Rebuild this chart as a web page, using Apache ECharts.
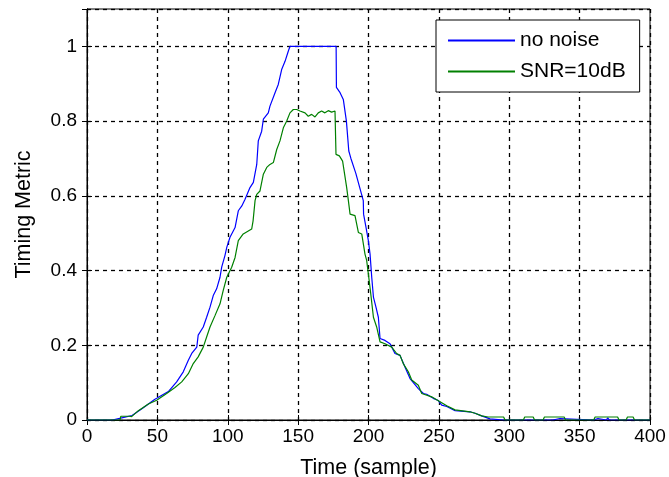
<!DOCTYPE html>
<html>
<head>
<meta charset="utf-8">
<script src="https://cdn.jsdelivr.net/npm/echarts@6/dist/echarts.min.js"></script>
<style>html,body{margin:0;padding:0;background:#fff}#c{width:669px;height:477px}</style>
</head>
<body>
<div id="c"></div>
<script>
var seriesNames = ['no noise', 'SNR=10dB'];
var xTicks = [0, 50, 100, 150, 200, 250, 300, 350, 400];
var yTicks = [0, 0.2, 0.4, 0.6, 0.8, 1];

var noNoise = [
  [0,0],[18,0],[24,0.005],[32,0.012],[40,0.033],[48,0.055],
  [49.5,0.058],[57.8,0.076],[63.7,0.102],[68.4,0.129],[72,0.16],[74.4,0.178],[78,0.195],[79,0.227],
  [82.6,0.249],[85,0.275],[87.4,0.302],[89.7,0.333],[92.1,0.351],[94.5,0.382],[95.7,0.409],[98,0.44],
  [99.3,0.462],[101.6,0.489],[105.2,0.515],[107.5,0.56],[110,0.573],[112.3,0.591],[115.8,0.622],
  [118.2,0.636],[120.6,0.684],[121.7,0.747],[124.1,0.773],[125.3,0.805],[128.8,0.822],[130,0.84],
  [133.6,0.876],[135.9,0.898],[138.3,0.938],[140.7,0.96],[143,0.987],[144.2,1],[177,1],[177.2,0.89],
  [179.8,0.876],[182.1,0.858],[184.3,0.8],[186,0.72],[187.5,0.70],[191,0.66],[196.3,0.587],[196.5,0.551],
  [198.2,0.516],[199.9,0.48],[201.1,0.444],[202.3,0.382],[203.5,0.329],[205.3,0.302],[207,0.275],
  [208.2,0.218],[211.7,0.213],[215.3,0.204],[218.8,0.178],[222.4,0.173],[225.9,0.142],[229.5,0.111],
  [235.4,0.084],[239,0.071],[241.3,0.069],[246,0.058],[249.6,0.052],[252,0.04],[255.6,0.036],
  [261.5,0.025],[272.1,0.022],[275.7,0.018],[280.4,0.011],[286.3,0.003],[296,0],[310,0],[311,0.004],
  [312,0],[331,0],[332,0.004],[336,0.004],[337,0],[360,0],[361,0.004],[363,0.004],[364,0],[369,0],
  [370,0.006],[371,0],[394,0],[395,0.005],[396,0],[400,0]
];

var snr10 = [
  [0,0],[23.5,0],[24,0.01],[30,0.01],[31.7,0.009],[36.5,0.025],[43.6,0.043],[49.5,0.053],[56.6,0.071],
  [62.5,0.087],[67.3,0.102],[72,0.124],[75.5,0.151],[79,0.169],[82.6,0.195],[85,0.222],[87.4,0.249],
  [91,0.28],[94.5,0.311],[96.8,0.347],[99.3,0.382],[102.8,0.409],[105.2,0.435],[107.5,0.48],[111,0.498],
  [117,0.511],[118,0.533],[119.4,0.587],[120.6,0.604],[122.9,0.613],[125.3,0.658],[127.7,0.676],
  [130,0.684],[132.4,0.689],[134.8,0.724],[137.1,0.747],[139.5,0.782],[141.9,0.8],[144.2,0.822],
  [146.6,0.831],[149,0.831],[151.3,0.827],[154.9,0.822],[157.2,0.813],[159.6,0.818],[162,0.811],
  [164.3,0.822],[166.7,0.827],[169,0.822],[171.4,0.828],[173.8,0.824],[176.2,0.827],[176.9,0.711],
  [179.3,0.707],[181.6,0.693],[184.5,0.622],[185.7,0.587],[186.9,0.551],[190.4,0.547],[192.8,0.502],
  [195.2,0.498],[197.5,0.444],[198.7,0.427],[199.9,0.391],[201.6,0.338],[203.5,0.275],[205.8,0.249],
  [208.2,0.209],[211.7,0.204],[216.5,0.195],[220,0.178],[222.4,0.173],[224.7,0.151],[228.3,0.129],
  [230.7,0.107],[235.4,0.093],[237.8,0.071],[244.9,0.062],[250.8,0.049],[255.6,0.038],[261.5,0.027],
  [272.1,0.022],[275.7,0.018],[280.4,0.011],[285,0.008],[296,0.008],[297,0],[310,0],[311,0.008],
  [317,0.008],[318,0],[324,0],[325,0.008],[339,0.008],[340,0],[360,0],[361,0.008],[377,0.008],
  [378,0],[383,0],[384,0.008],[388,0.008],[389,0],[400,0]
];

var FONT = 'Liberation Sans, Arial, sans-serif';
var chart = echarts.init(document.getElementById('c'));
var dashed = {show: true, lineStyle: {color: '#000', type: [4, 4], width: 1.3}};
var tickIn = {show: true, inside: true, length: 5, lineStyle: {color: '#000'}};
chart.setOption({
  animation: false,
  backgroundColor: '#fff',
  grid: {left: 87, right: 19, top: 9, bottom: 57, show: true, borderColor: '#000', borderWidth: 1,
         backgroundColor: 'transparent', containLabel: false, outerBoundsMode: 'none'},
  legend: {
    data: seriesNames,
    orient: 'vertical', left: 436, top: 20,
    padding: [10, 14, 10, 12], itemGap: 10, itemWidth: 67, itemHeight: 2,
    icon: 'rect',
    backgroundColor: '#fff', borderColor: '#000', borderWidth: 1,
    textStyle: {fontFamily: FONT, fontSize: 21, color: '#000', lineHeight: 21}
  },
  xAxis: [{
    type: 'value', min: xTicks[0], max: xTicks[xTicks.length - 1], interval: 50,
    name: 'Time (sample)', nameLocation: 'middle', nameGap: 37,
    nameTextStyle: {fontFamily: FONT, fontSize: 21.5, color: '#000'},
    axisLine: {show: true, lineStyle: {color: '#000'}},
    axisTick: tickIn,
    axisLabel: {fontFamily: FONT, fontSize: 19, color: '#000', margin: 7},
    splitLine: dashed
  }, {
    type: 'value', position: 'top', min: xTicks[0], max: xTicks[xTicks.length - 1], interval: 50,
    axisLine: {show: true, lineStyle: {color: '#000'}}, axisTick: tickIn,
    axisLabel: {show: false}, splitLine: {show: false}
  }],
  yAxis: [{
    type: 'value', min: yTicks[0], max: 1.1, interval: 0.2,
    name: 'Timing Metric', nameLocation: 'middle', nameGap: 52,
    nameTextStyle: {fontFamily: FONT, fontSize: 21.5, color: '#000'},
    axisLine: {show: true, lineStyle: {color: '#000'}},
    axisTick: tickIn,
    axisLabel: {fontFamily: FONT, fontSize: 19, color: '#000', margin: 10, showMaxLabel: false},
    splitLine: dashed
  }, {
    type: 'value', position: 'right', min: yTicks[0], max: 1.1, interval: 0.2,
    axisLine: {show: true, lineStyle: {color: '#000'}}, axisTick: tickIn,
    axisLabel: {show: false}, splitLine: {show: false}
  }],
  series: [{
    name: seriesNames[0], type: 'line', data: noNoise, symbol: 'none', showSymbol: false,
    lineStyle: {color: '#0000ff', width: 1.2}, itemStyle: {color: '#0000ff'}, z: 3
  }, {
    name: seriesNames[1], type: 'line', data: snr10, symbol: 'none', showSymbol: false,
    lineStyle: {color: '#008000', width: 1.2}, itemStyle: {color: '#008000'}, z: 4
  }]
});
</script>
</body>
</html>
